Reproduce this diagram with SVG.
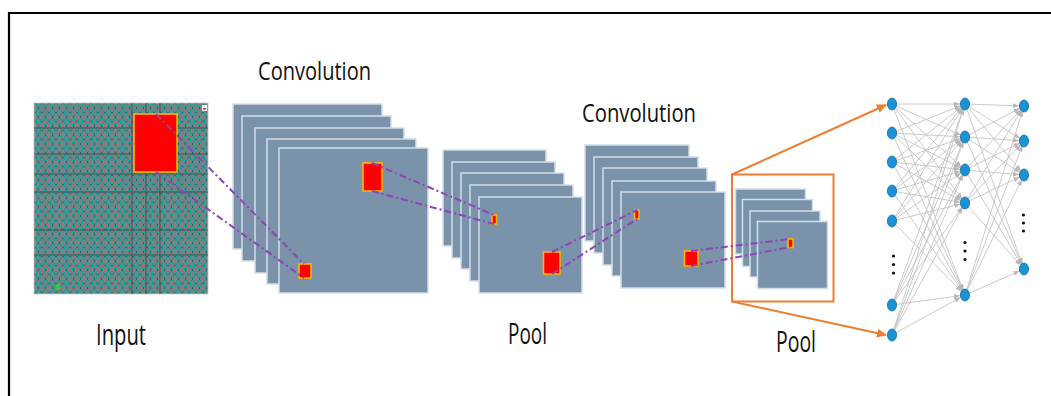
<svg xmlns="http://www.w3.org/2000/svg" width="1051" height="396" viewBox="0 0 1051 396">
  <style>
    .map { fill: #7a93ab; stroke: #d4dee9; stroke-width: 1.5; }
    .hot { fill: #ff0000; stroke: #ffb300; stroke-width: 1.6; }
    .trace { fill: none; stroke: #8e44b8; stroke-width: 2; stroke-dasharray: 7 3 2 3; }
    .label { font-family: "Open Sans", "Noto Sans", "Liberation Sans", sans-serif; fill: #111111; }
    .edge { stroke: #c4c4c4; stroke-width: 0.9; fill: none; marker-end: url(#tip); }
    .neuron { fill: #1b92d4; stroke: #0f6ea8; stroke-width: 0.8; }
    .dot { fill: #111111; }
    .grid { stroke: #333333; stroke-width: 1; opacity: 0.6; }
  </style>
  <defs>
    <pattern id="chain" width="7" height="9" patternUnits="userSpaceOnUse">
      <rect width="7" height="9" fill="#808080"/>
      <ellipse cx="3.5" cy="4.5" rx="2.2" ry="3.4" fill="none" stroke="#00a6a6" stroke-width="1"/>
      <circle cx="0" cy="4.5" r="0.8" fill="#007070"/>
      <circle cx="7" cy="4.5" r="0.8" fill="#007070"/>
      <rect x="3" y="0" width="1" height="1" fill="#007070"/>
      <rect x="3" y="8" width="1" height="1" fill="#007070"/>
    </pattern>
    <marker id="tip" markerWidth="12" markerHeight="6" refX="11" refY="2.5" orient="auto" markerUnits="userSpaceOnUse">
      <path d="M0,0 L6,2.5 L0,5 z" fill="#b8b8b8"/>
    </marker>
    <marker id="orangeTip" markerWidth="12" markerHeight="10" refX="9" refY="5" orient="auto" markerUnits="userSpaceOnUse">
      <path d="M0,0.5 L10,5 L0,9.5 z" fill="#ed7d31"/>
    </marker>
  </defs>

  <rect width="1051" height="396" fill="#ffffff"/>
  <!-- frame (left and top edges) -->
  <path d="M9,400 V13 H1056" fill="none" stroke="#000000" stroke-width="2.2"/>

  <!-- input image -->
  <g id="input">
    <rect x="34" y="103" width="174" height="191" fill="url(#chain)" stroke="#c8c8c8" stroke-width="0.8"/>
    <g class="grid">
      <line x1="34" y1="128" x2="208" y2="128"/>
      <line x1="34" y1="154" x2="208" y2="154"/>
      <line x1="34" y1="174" x2="208" y2="174"/>
      <line x1="34" y1="192" x2="208" y2="192"/>
      <line x1="34" y1="230" x2="208" y2="230"/>
      <line x1="34" y1="255" x2="208" y2="255"/>
      <line x1="132" y1="103" x2="132" y2="294"/>
      <line x1="146" y1="103" x2="146" y2="294"/>
      <line x1="160" y1="103" x2="160" y2="294"/>
    </g>
    <rect x="202" y="105" width="5" height="6" fill="#f4f4f4"/>
    <rect x="203" y="108" width="3" height="1.5" fill="#e03030"/>
    <rect x="56" y="284" width="4" height="6" fill="#33cc33"/>
    <rect x="134" y="114" width="43" height="58" class="hot" stroke-width="2"/>
    <text class="label" x="96" y="345" font-size="29" textLength="50" lengthAdjust="spacingAndGlyphs">Input</text>
  </g>

  <!-- first convolution layer -->
  <g id="conv1">
    <rect class="map" x="233" y="104" width="149" height="145"/>
    <rect class="map" x="242" y="116" width="149" height="145"/>
    <rect class="map" x="255" y="128" width="149" height="145"/>
    <rect class="map" x="267" y="139" width="149" height="145"/>
    <rect class="map" x="279" y="148" width="149" height="145"/>
    <rect class="hot" x="363" y="163" width="19" height="28"/>
    <rect class="hot" x="299" y="264" width="12" height="14"/>
    <text class="label" x="258" y="80" font-size="26" textLength="113" lengthAdjust="spacingAndGlyphs">Convolution</text>
  </g>

  <!-- first pooling layer -->
  <g id="pool1">
    <rect class="map" x="443" y="150" width="103" height="96"/>
    <rect class="map" x="452" y="162" width="103" height="96"/>
    <rect class="map" x="461" y="173" width="103" height="96"/>
    <rect class="map" x="470" y="185" width="103" height="96"/>
    <rect class="map" x="479" y="197" width="103" height="96"/>
    <rect class="hot" x="492" y="215" width="4.5" height="9"/>
    <rect class="hot" x="543.5" y="252" width="16.5" height="22"/>
    <text class="label" x="508" y="344" font-size="29" textLength="39" lengthAdjust="spacingAndGlyphs">Pool</text>
  </g>

  <!-- second convolution layer -->
  <g id="conv2">
    <rect class="map" x="585" y="145" width="104" height="96"/>
    <rect class="map" x="594" y="157" width="104" height="96"/>
    <rect class="map" x="603" y="168" width="104" height="97"/>
    <rect class="map" x="612" y="181" width="104" height="95"/>
    <rect class="map" x="621" y="192" width="104" height="96"/>
    <rect class="hot" x="634.5" y="210" width="4.5" height="9"/>
    <rect class="hot" x="684.5" y="251" width="13.5" height="15"/>
    <text class="label" x="582" y="122" font-size="26" textLength="114" lengthAdjust="spacingAndGlyphs">Convolution</text>
  </g>

  <!-- second pooling layer -->
  <g id="pool2">
    <rect x="732" y="174.5" width="101.5" height="127" fill="none" stroke="#ed7d31" stroke-width="2"/>
    <rect class="map" x="735.5" y="189" width="70" height="65"/>
    <rect class="map" x="742.5" y="199.5" width="70" height="67"/>
    <rect class="map" x="750" y="211" width="70" height="66"/>
    <rect class="map" x="757.5" y="221.5" width="70" height="67"/>
    <rect class="hot" x="788" y="239" width="5" height="8.5"/>
    <text class="label" x="776" y="352" font-size="29" textLength="40" lengthAdjust="spacingAndGlyphs">Pool</text>
  </g>

  <!-- fully connected network -->
  <g id="dense">
    <g id="dense-edges">
      <line class="edge" x1="892" y1="104" x2="965" y2="104"/>
      <line class="edge" x1="892" y1="104" x2="965" y2="137"/>
      <line class="edge" x1="892" y1="104" x2="965" y2="170"/>
      <line class="edge" x1="892" y1="104" x2="965" y2="203"/>
      <line class="edge" x1="892" y1="104" x2="965" y2="295"/>
      <line class="edge" x1="892" y1="133" x2="965" y2="104"/>
      <line class="edge" x1="892" y1="133" x2="965" y2="137"/>
      <line class="edge" x1="892" y1="133" x2="965" y2="170"/>
      <line class="edge" x1="892" y1="133" x2="965" y2="203"/>
      <line class="edge" x1="892" y1="133" x2="965" y2="295"/>
      <line class="edge" x1="892" y1="162" x2="965" y2="104"/>
      <line class="edge" x1="892" y1="162" x2="965" y2="137"/>
      <line class="edge" x1="892" y1="162" x2="965" y2="170"/>
      <line class="edge" x1="892" y1="162" x2="965" y2="203"/>
      <line class="edge" x1="892" y1="162" x2="965" y2="295"/>
      <line class="edge" x1="892" y1="191" x2="965" y2="104"/>
      <line class="edge" x1="892" y1="191" x2="965" y2="137"/>
      <line class="edge" x1="892" y1="191" x2="965" y2="170"/>
      <line class="edge" x1="892" y1="191" x2="965" y2="203"/>
      <line class="edge" x1="892" y1="191" x2="965" y2="295"/>
      <line class="edge" x1="892" y1="221" x2="965" y2="104"/>
      <line class="edge" x1="892" y1="221" x2="965" y2="137"/>
      <line class="edge" x1="892" y1="221" x2="965" y2="170"/>
      <line class="edge" x1="892" y1="221" x2="965" y2="203"/>
      <line class="edge" x1="892" y1="221" x2="965" y2="295"/>
      <line class="edge" x1="892" y1="305" x2="965" y2="104"/>
      <line class="edge" x1="892" y1="305" x2="965" y2="137"/>
      <line class="edge" x1="892" y1="305" x2="965" y2="170"/>
      <line class="edge" x1="892" y1="305" x2="965" y2="203"/>
      <line class="edge" x1="892" y1="305" x2="965" y2="295"/>
      <line class="edge" x1="892" y1="335" x2="965" y2="104"/>
      <line class="edge" x1="892" y1="335" x2="965" y2="137"/>
      <line class="edge" x1="892" y1="335" x2="965" y2="170"/>
      <line class="edge" x1="892" y1="335" x2="965" y2="203"/>
      <line class="edge" x1="892" y1="335" x2="965" y2="295"/>
      <line class="edge" x1="965" y1="104" x2="1024" y2="106"/>
      <line class="edge" x1="965" y1="104" x2="1024" y2="141"/>
      <line class="edge" x1="965" y1="104" x2="1024" y2="175"/>
      <line class="edge" x1="965" y1="104" x2="1024" y2="269"/>
      <line class="edge" x1="965" y1="137" x2="1024" y2="106"/>
      <line class="edge" x1="965" y1="137" x2="1024" y2="141"/>
      <line class="edge" x1="965" y1="137" x2="1024" y2="175"/>
      <line class="edge" x1="965" y1="137" x2="1024" y2="269"/>
      <line class="edge" x1="965" y1="170" x2="1024" y2="106"/>
      <line class="edge" x1="965" y1="170" x2="1024" y2="141"/>
      <line class="edge" x1="965" y1="170" x2="1024" y2="175"/>
      <line class="edge" x1="965" y1="170" x2="1024" y2="269"/>
      <line class="edge" x1="965" y1="203" x2="1024" y2="106"/>
      <line class="edge" x1="965" y1="203" x2="1024" y2="141"/>
      <line class="edge" x1="965" y1="203" x2="1024" y2="175"/>
      <line class="edge" x1="965" y1="203" x2="1024" y2="269"/>
      <line class="edge" x1="965" y1="295" x2="1024" y2="106"/>
      <line class="edge" x1="965" y1="295" x2="1024" y2="141"/>
      <line class="edge" x1="965" y1="295" x2="1024" y2="175"/>
      <line class="edge" x1="965" y1="295" x2="1024" y2="269"/>
    </g>
    <g id="dense-layer1">
      <ellipse class="neuron" cx="892" cy="104" rx="4.6" ry="6"/>
      <ellipse class="neuron" cx="892" cy="133" rx="4.6" ry="6"/>
      <ellipse class="neuron" cx="892" cy="162" rx="4.6" ry="6"/>
      <ellipse class="neuron" cx="892" cy="191" rx="4.6" ry="6"/>
      <ellipse class="neuron" cx="892" cy="221" rx="4.6" ry="6"/>
      <ellipse class="neuron" cx="892" cy="305" rx="4.6" ry="6"/>
      <ellipse class="neuron" cx="892" cy="335" rx="4.6" ry="6"/>
      <circle class="dot" cx="893.5" cy="256" r="1.6"/>
      <circle class="dot" cx="893.5" cy="264.5" r="1.6"/>
      <circle class="dot" cx="893.5" cy="273" r="1.6"/>
    </g>
    <g id="dense-layer2">
      <ellipse class="neuron" cx="965" cy="104" rx="4.6" ry="6"/>
      <ellipse class="neuron" cx="965" cy="137" rx="4.6" ry="6"/>
      <ellipse class="neuron" cx="965" cy="170" rx="4.6" ry="6"/>
      <ellipse class="neuron" cx="965" cy="203" rx="4.6" ry="6"/>
      <ellipse class="neuron" cx="965" cy="295" rx="4.6" ry="6"/>
      <circle class="dot" cx="965" cy="242.5" r="1.6"/>
      <circle class="dot" cx="965" cy="251" r="1.6"/>
      <circle class="dot" cx="965" cy="259.5" r="1.6"/>
    </g>
    <g id="dense-layer3">
      <ellipse class="neuron" cx="1024" cy="106" rx="4.6" ry="6"/>
      <ellipse class="neuron" cx="1024" cy="141" rx="4.6" ry="6"/>
      <ellipse class="neuron" cx="1024" cy="175" rx="4.6" ry="6"/>
      <ellipse class="neuron" cx="1024" cy="269" rx="4.6" ry="6"/>
      <circle class="dot" cx="1023.5" cy="215" r="1.6"/>
      <circle class="dot" cx="1023.5" cy="223" r="1.6"/>
      <circle class="dot" cx="1023.5" cy="231" r="1.6"/>
    </g>
  </g>

  <!-- receptive-field traces and flatten arrows -->
  <g id="connectors">
    <line class="trace" x1="156" y1="114" x2="304" y2="264"/>
    <line class="trace" x1="156" y1="172" x2="304" y2="278"/>
    <line class="trace" x1="372" y1="163" x2="494" y2="215"/>
    <line class="trace" x1="372" y1="191" x2="494" y2="224"/>
    <line class="trace" x1="552" y1="252" x2="637" y2="210"/>
    <line class="trace" x1="552" y1="274" x2="637" y2="219"/>
    <line class="trace" x1="691" y1="251" x2="790" y2="239"/>
    <line class="trace" x1="691" y1="266" x2="790" y2="247"/>
    <line x1="732" y1="174.5" x2="886" y2="105" stroke="#ed7d31" stroke-width="2" marker-end="url(#orangeTip)"/>
    <line x1="732" y1="301.5" x2="886" y2="335" stroke="#ed7d31" stroke-width="2" marker-end="url(#orangeTip)"/>
  </g>
</svg>
